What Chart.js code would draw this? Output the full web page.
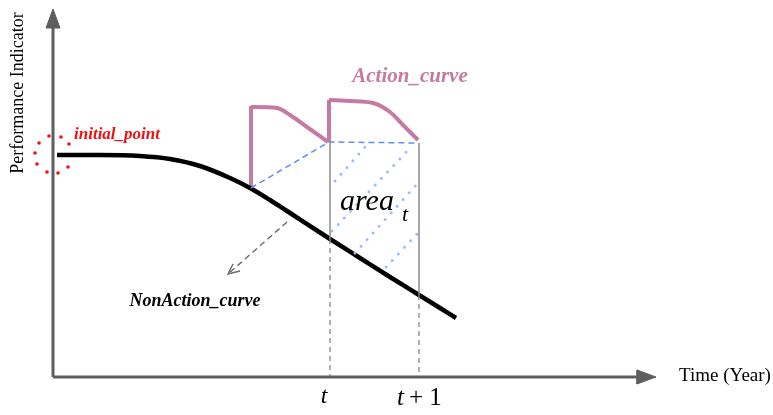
<!DOCTYPE html>
<html>
<head>
<meta charset="utf-8">
<script src="https://cdn.jsdelivr.net/npm/chart.js@4/dist/chart.umd.min.js"></script>
<style>
  html, body { margin: 0; padding: 0; background: #fff; }
  canvas { display: block; }
</style>
</head>
<body>
<canvas id="chart" width="773" height="415"></canvas>
<script>
// schematic units: x = time, y = performance (both arbitrary)
const nonActionX = [57, 100, 140, 170, 200, 230, 250, 270, 287, 330, 360, 390, 419, 440, 456];
const nonActionY = [260, 260, 259, 256, 249, 237, 227, 215, 204, 176, 157, 138, 120, 107, 97];

const action1RiseX = [251, 251];
const action1RiseY = [227, 309];
const action1TopX = [251, 277, 290, 307, 328];
const action1TopY = [308, 307, 300, 288, 273];
const action2RiseX = [329, 329];
const action2RiseY = [273, 315];
const action2TopX = [329, 350, 373, 390, 403, 418];
const action2TopY = [315, 314, 312, 303, 290, 275];

const baseLinkX = [251, 329, 418];
const baseLinkY = [227, 273, 272];

const tX = 330, t1X = 419;
const axisY = 38, axisX = 53;

// hatch lines (dotted) inside area_t
const hatch = [
  [[335, 234], [366, 269]],
  [[332, 184], [412, 269]],
  [[355, 162], [418, 232]],
  [[386, 148], [418, 182]]
];

const initDotsX = [49, 61, 69, 39, 35, 37, 47, 58, 68];
const initDotsY = [279, 278, 271, 272, 262, 251, 243, 242, 248];

const pointerX = [287, 228];
const pointerY = [193, 141];
const pointerHeadX = [233, 228, 240];
const pointerHeadY = [151, 141, 144];

const zip = (xs, ys) => xs.map((x, i) => ({ x, y: ys[i] }));

const AXIS = "#5e5e5e";
const PINK = "#c57aa3";
const BLUE = "#5b8ff0";
const DOTS = "#9dbdf6";
const GRID = "#8a8a8a";

const line = (data, color, width, extra = {}) => Object.assign({
  data, showLine: true, borderColor: color, borderWidth: width,
  pointRadius: 0, pointHoverRadius: 0, tension: 0, fill: false
}, extra);

const datasets = [
  // axes
  line([{ x: axisX, y: axisY }, { x: axisX, y: 388 }], AXIS, 3),
  line([{ x: axisX, y: axisY }, { x: 638, y: axisY }], AXIS, 3),
  line([{ x: 46, y: 387 }, { x: 60, y: 387 }, { x: 53, y: 406 }, { x: 46, y: 387 }], AXIS, 1,
    { fill: "shape", backgroundColor: AXIS }),
  line([{ x: 637, y: 45 }, { x: 637, y: 31 }, { x: 656, y: axisY }, { x: 637, y: 45 }], AXIS, 1,
    { fill: "shape", backgroundColor: AXIS }),

  // t and t+1 markers
  line([{ x: tX, y: 273 }, { x: tX, y: 176 }], GRID, 1.5),
  line([{ x: tX, y: 176 }, { x: tX, y: axisY }], GRID, 1.3, { borderDash: [5, 4] }),
  line([{ x: t1X, y: 272 }, { x: t1X, y: 120 }], GRID, 1.5),
  line([{ x: t1X, y: 120 }, { x: t1X, y: axisY }], GRID, 1.3, { borderDash: [5, 4] }),

  // hatch
  ...hatch.map(h => line(h.map(([x, y]) => ({ x, y })), DOTS, 3,
    { borderDash: [0, 9], borderCapStyle: "round" })),

  // dashed base of the action curve
  line(zip(baseLinkX, baseLinkY), BLUE, 1.5, { borderDash: [6, 4] }),

  // non-action curve
  line(zip(nonActionX, nonActionY), "#000", 4.5, { cubicInterpolationMode: "monotone" }),

  // action curve
  line(zip(action1RiseX, action1RiseY), PINK, 4),
  line(zip(action1TopX, action1TopY), PINK, 4, { cubicInterpolationMode: "monotone" }),
  line(zip(action2RiseX, action2RiseY), PINK, 4),
  line(zip(action2TopX, action2TopY), PINK, 4, { cubicInterpolationMode: "monotone" }),

  // initial point ring
  { data: zip(initDotsX, initDotsY), showLine: false, pointRadius: 1.8, pointHoverRadius: 0,
    pointBackgroundColor: "#f01010", pointBorderWidth: 0 },

  // pointer to NonAction_curve
  line(zip(pointerX, pointerY), "#6a6a6a", 1.4, { borderDash: [6, 4] }),
  line(zip(pointerHeadX, pointerHeadY), "#6a6a6a", 1.4)
];

const labels = [
  { text: "Action_curve", x: 410, y: 338, font: "italic bold 21px 'Liberation Serif'", color: PINK },
  { text: "initial_point", x: 117, y: 280, font: "italic bold 17px 'Liberation Serif'", color: "#f01010" },
  { text: "NonAction_curve", x: 195, y: 114, font: "italic bold 18px 'Liberation Serif'", color: "#000" },
  { text: "area", x: 367, y: 213, font: "italic 30px 'Liberation Serif'", color: "#000" },
  { text: "t", x: 405, y: 200, font: "italic 22px 'Liberation Serif'", color: "#000" },
  { text: "t", x: 324, y: 18, font: "italic 24px 'Liberation Serif'", color: "#000" },
  { text: "Time (Year)", x: 725, y: 39, font: "19px 'Liberation Serif'", color: "#000" }
];

const textPlugin = {
  id: "labels",
  afterDraw(chart) {
    const { ctx, scales: { x, y } } = chart;
    ctx.save();
    ctx.textAlign = "center";
    ctx.textBaseline = "middle";
    labels.forEach(l => {
      ctx.font = l.font;
      ctx.fillStyle = l.color;
      ctx.fillText(l.text, x.getPixelForValue(l.x), y.getPixelForValue(l.y));
    });
    // t + 1 (italic t, upright "+ 1")
    const bx = x.getPixelForValue(397), by = y.getPixelForValue(17);
    ctx.textAlign = "left";
    ctx.font = "italic 25px 'Liberation Serif'";
    ctx.fillText("t", bx, by);
    ctx.font = "25px 'Liberation Serif'";
    ctx.fillText("+ 1", bx + 12, by);
    // rotated axis title
    ctx.textAlign = "center";
    ctx.font = "18px 'Liberation Serif'";
    ctx.translate(x.getPixelForValue(18), y.getPixelForValue(322));
    ctx.rotate(-Math.PI / 2);
    ctx.fillText("Performance Indicator", 0, 0);
    ctx.restore();
  }
};

new Chart(document.getElementById("chart"), {
  type: "scatter",
  data: { datasets },
  options: {
    responsive: false,
    animation: false,
    devicePixelRatio: 1,
    layout: { padding: 0, autoPadding: false },
    plugins: { legend: { display: false }, tooltip: { enabled: false } },
    scales: {
      x: { type: "linear", min: 0, max: 773, display: false },
      y: { type: "linear", min: 0, max: 415, display: false }
    }
  },
  plugins: [textPlugin]
});
</script>
</body>
</html>
